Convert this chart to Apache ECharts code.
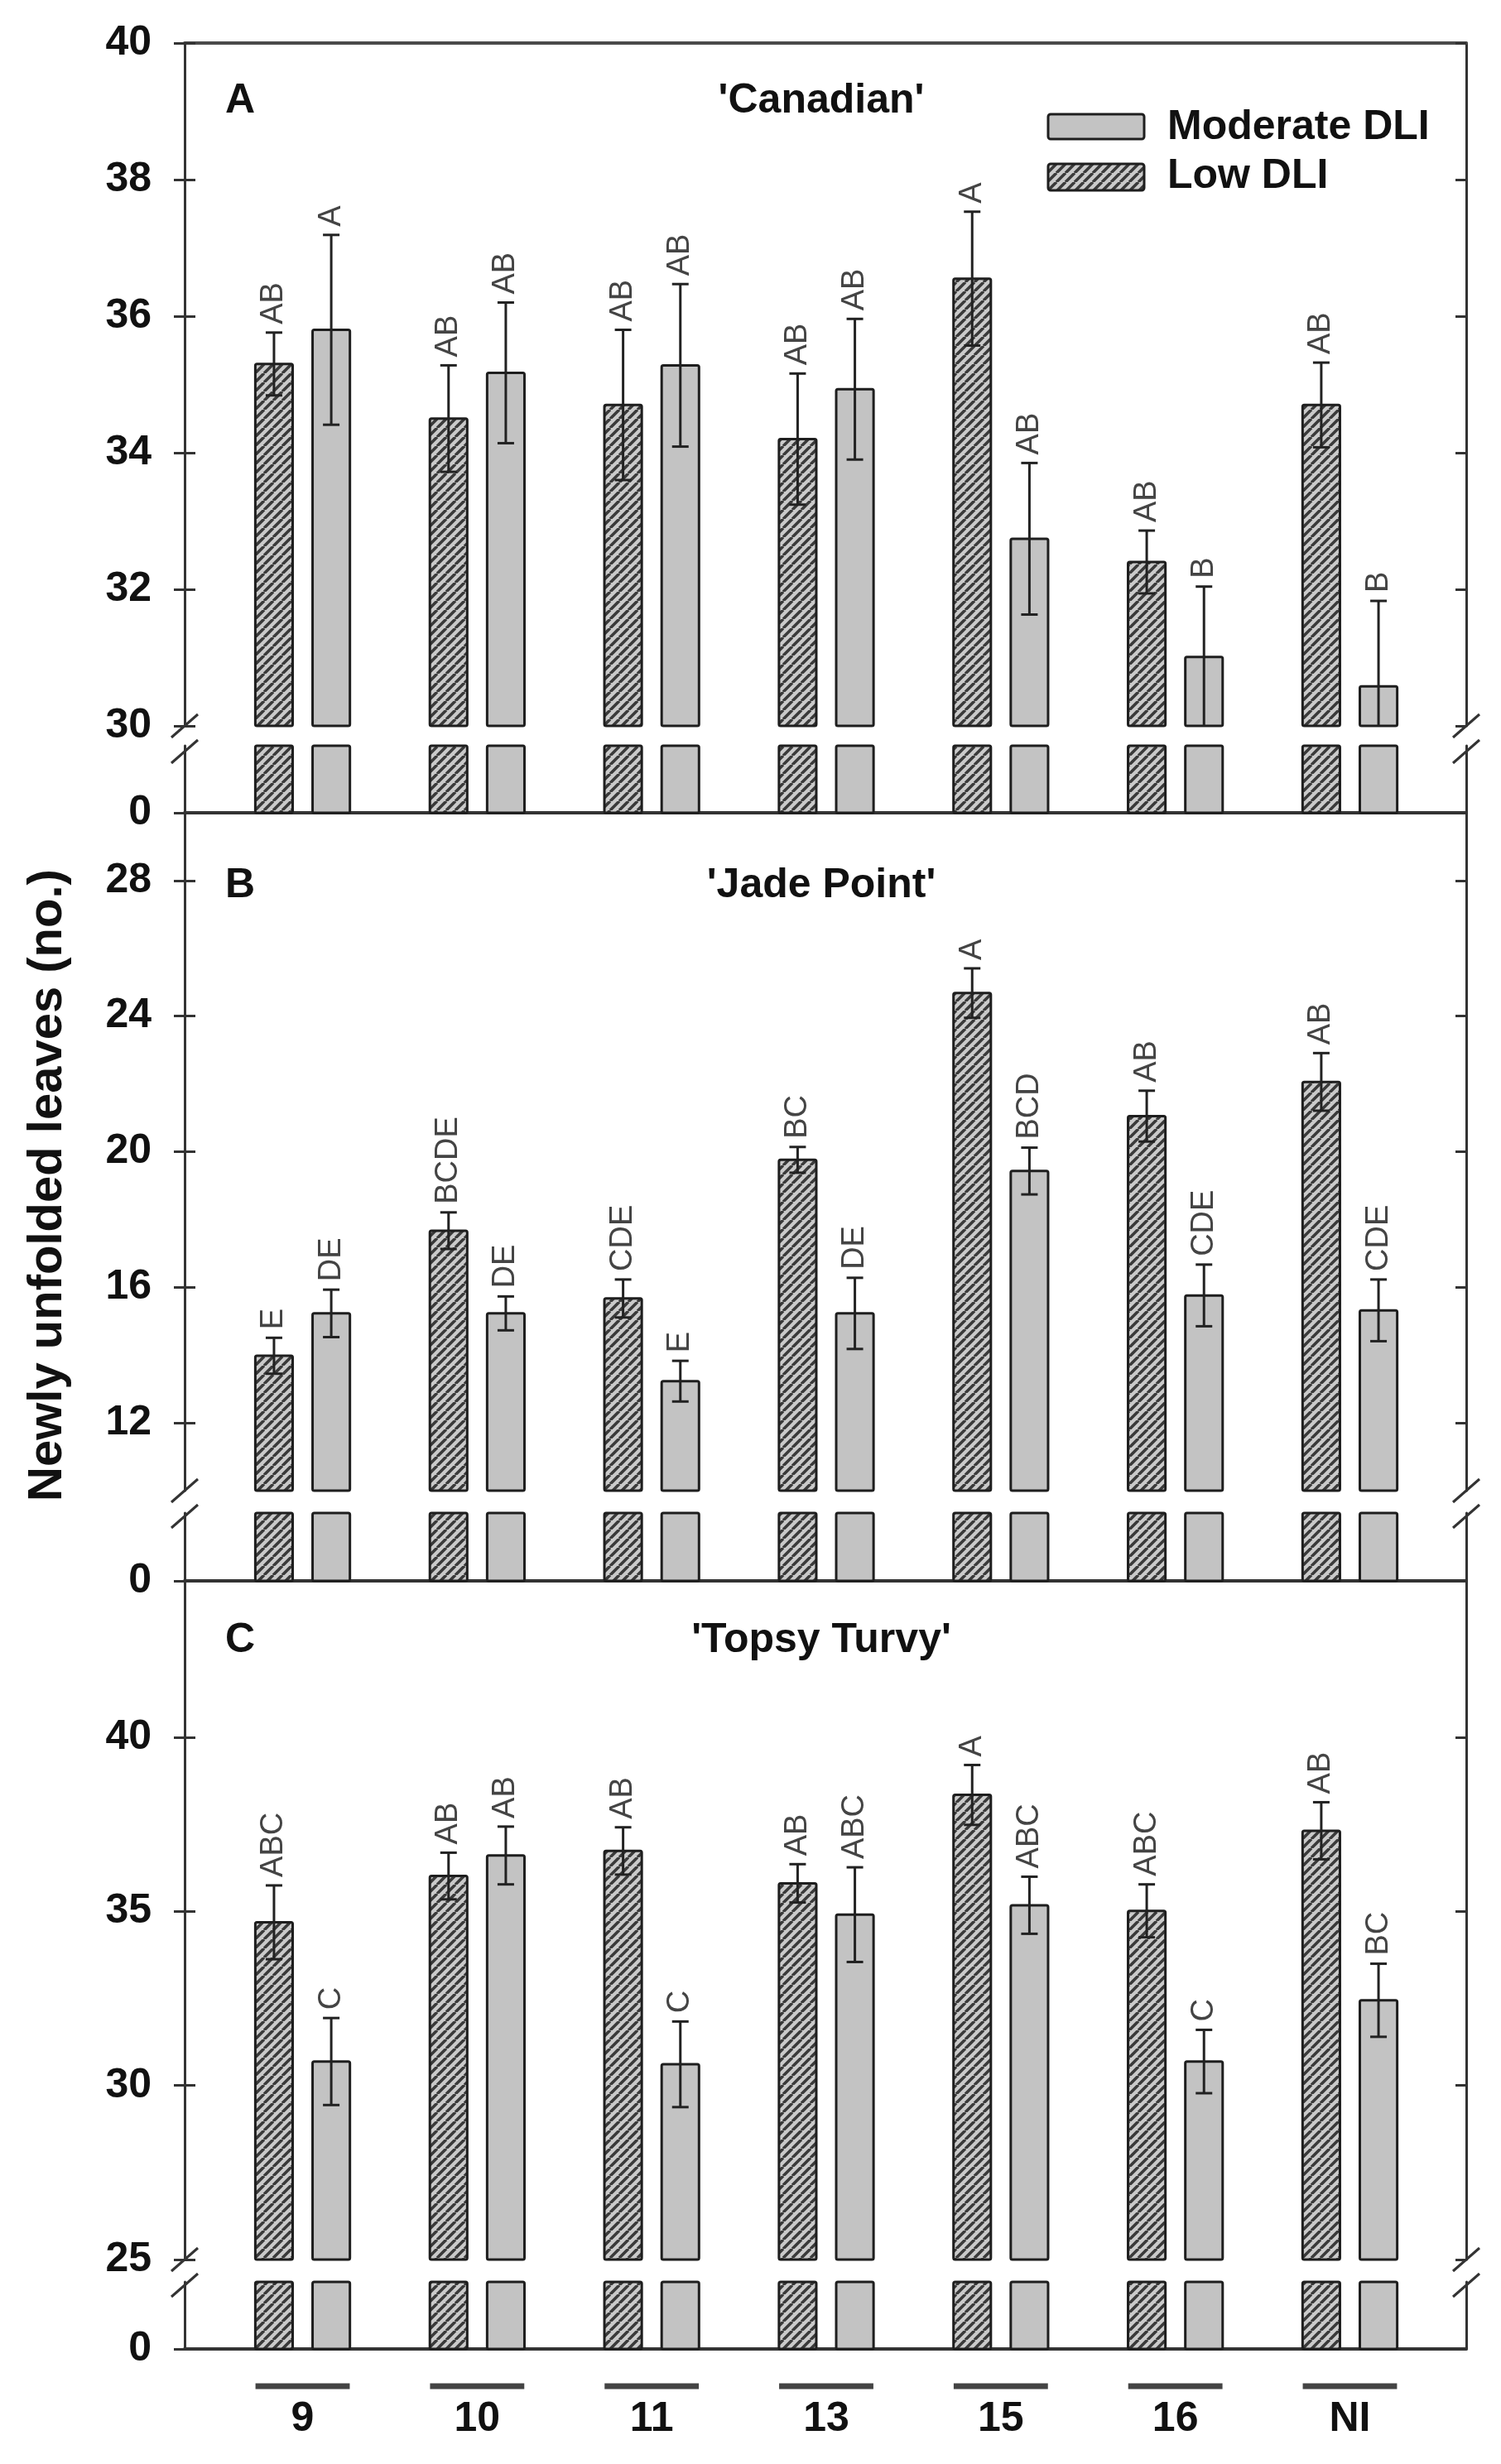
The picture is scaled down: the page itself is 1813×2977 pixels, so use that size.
<!DOCTYPE html>
<html>
<head>
<meta charset="utf-8">
<title>Newly unfolded leaves</title>
<style>
  html, body { margin: 0; padding: 0; background: #fff; }
  #chart { width: 1813px; height: 2977px; }
</style>
</head>
<body>
<div id="chart"></div>
<script src="https://cdn.jsdelivr.net/npm/echarts@6.0.0/dist/echarts.min.js"></script>
<script>
// groups on the x axis
const groups = ['9', '10', '11', '13', '15', '16', 'NI'];

// 'Canadian'
const canLow = [35.3, 34.5, 34.7, 34.2, 36.55, 32.4, 34.7];
const canLowErr = [0.46, 0.78, 1.1, 0.96, 0.98, 0.46, 0.62];
const canLowSig = ['AB', 'AB', 'AB', 'AB', 'A', 'AB', 'AB'];
const canMod = [35.8, 35.17, 35.28, 34.93, 32.74, 31.01, 30.58];
const canModErr = [1.39, 1.03, 1.19, 1.03, 1.11, 1.03, 1.25];
const canModSig = ['A', 'AB', 'AB', 'AB', 'AB', 'B', 'B'];
const canTicks = [30, 32, 34, 36, 38, 40];

// 'Jade Point'
const jadeLow = [13.98, 17.67, 15.67, 19.76, 24.68, 21.05, 22.06];
const jadeLowErr = [0.53, 0.54, 0.56, 0.38, 0.73, 0.75, 0.85];
const jadeLowSig = ['E', 'BCDE', 'CDE', 'BC', 'A', 'AB', 'AB'];
const jadeMod = [15.23, 15.23, 13.23, 15.23, 19.43, 15.76, 15.32];
const jadeModErr = [0.7, 0.5, 0.6, 1.05, 0.69, 0.91, 0.91];
const jadeModSig = ['DE', 'DE', 'E', 'DE', 'BCD', 'CDE', 'CDE'];
const jadeTicks = [12, 16, 20, 24, 28];

// 'Topsy Turvy'
const topLow = [34.69, 36.02, 36.74, 35.81, 38.35, 35.02, 37.32];
const topLowErr = [1.06, 0.67, 0.68, 0.55, 0.86, 0.76, 0.82];
const topLowSig = ['ABC', 'AB', 'AB', 'AB', 'A', 'ABC', 'AB'];
const topMod = [30.69, 36.61, 30.61, 34.91, 35.18, 30.69, 32.45];
const topModErr = [1.25, 0.83, 1.23, 1.36, 0.82, 0.91, 1.05];
const topModSig = ['C', 'AB', 'C', 'ABC', 'ABC', 'C', 'BC'];
const topTicks = [25, 30, 35, 40];

// layout (px)
const L = 223, W = 1548;
const X_MIN = -0.676, X_MAX = 6.6665;
const BAR_OFF = 0.164, BAR_HALF = 0.107;
const FONT = '"Liberation Sans", Arial, Helvetica, sans-serif';
const AX = { color: '#333', width: 3 };
const MOD_FILL = '#c3c3c3';

const panels = [
  { tag: 'A', name: "'Canadian'", top: 52, mainBottom: 877, stubTop: 901, zero: 982, min: 30, max: 40, stubMax: 1,
    low: canLow, lowErr: canLowErr, lowSig: canLowSig, mod: canMod, modErr: canModErr, modSig: canModSig, ticks: canTicks },
  { tag: 'B', name: "'Jade Point'", top: 982, mainBottom: 1801, stubTop: 1828, zero: 1910, min: 10, max: 30, stubMax: 2,
    low: jadeLow, lowErr: jadeLowErr, lowSig: jadeLowSig, mod: jadeMod, modErr: jadeModErr, modSig: jadeModSig, ticks: jadeTicks },
  { tag: 'C', name: "'Topsy Turvy'", top: 1910, mainBottom: 2730, stubTop: 2757, zero: 2838, min: 25, max: 44.5, stubMax: 2,
    low: topLow, lowErr: topLowErr, lowSig: topLowSig, mod: topMod, modErr: topModErr, modSig: topModSig, ticks: topTicks }
];

// diagonal hatch for Low DLI
function makeHatch() {
  const s = 11;
  const c = document.createElement('canvas');
  c.width = s; c.height = s;
  const ctx = c.getContext('2d');
  ctx.fillStyle = '#cacaca';
  ctx.fillRect(0, 0, s, s);
  ctx.strokeStyle = '#3a3a3a';
  ctx.lineWidth = 3.6;
  ctx.beginPath();
  for (let k = -1; k <= 1; k++) {
    ctx.moveTo(k * s, s);
    ctx.lineTo(k * s + s, 0);
  }
  ctx.stroke();
  return { image: c, repeat: 'repeat' };
}
const hatch = makeHatch();

function barRenderer(side, base, cap, errs, sigs) {
  return function (params, api) {
    const i = params.dataIndex;
    const val = api.value(1);
    const v = cap == null ? val : Math.min(val, cap);
    const xc = api.value(0) + side * BAR_OFF;
    const p0 = api.coord([xc - BAR_HALF, base]);
    const p1 = api.coord([xc + BAR_HALF, v]);
    const children = [{
      type: 'rect',
      shape: { x: p0[0], y: p1[1], width: p1[0] - p0[0], height: p0[1] - p1[1], r: 2 },
      style: { fill: side < 0 ? hatch : MOD_FILL, stroke: '#1e1e1e', lineWidth: 3 }
    }];
    if (errs) {
      const e = errs[i];
      const lowEnd = val - e;
      const t = api.coord([xc, val + e]);
      const b = api.coord([xc, Math.max(lowEnd, base)]);
      const ls = { stroke: '#222', lineWidth: 3 };
      children.push(
        { type: 'line', shape: { x1: t[0], y1: t[1], x2: b[0], y2: b[1] }, style: ls },
        { type: 'line', shape: { x1: t[0] - 10, y1: t[1], x2: t[0] + 10, y2: t[1] }, style: ls },
        {
          type: 'text', x: t[0], y: t[1] - 10, rotation: Math.PI / 2,
          style: {
            text: sigs[i], x: 0, y: 0, fill: '#444', font: '38px ' + FONT,
            align: 'left', verticalAlign: 'middle', textAlign: 'left', textVerticalAlign: 'middle'
          }
        }
      );
      if (lowEnd > base) {
        children.push({ type: 'line', shape: { x1: b[0] - 10, y1: b[1], x2: b[0] + 10, y2: b[1] }, style: ls });
      }
    }
    return { type: 'group', children: children };
  };
}

function yAxes(gridIndex, min, max, ticks, rightTicks) {
  const tickStyle = { color: '#333', width: 3 };
  return [
    {
      gridIndex: gridIndex, type: 'value', min: min, max: max, position: 'left',
      axisLine: { show: true, onZero: false, lineStyle: AX },
      axisTick: { show: true, inside: false, length: 13, customValues: ticks, lineStyle: tickStyle },
      axisLabel: { show: true, customValues: ticks, margin: 40, color: '#111', fontSize: 50, fontWeight: 'bold', fontFamily: FONT },
      splitLine: { show: false }
    },
    {
      gridIndex: gridIndex, type: 'value', min: min, max: max, position: 'left',
      axisLine: { show: false, onZero: false },
      axisTick: { show: true, inside: true, length: 13, customValues: ticks, lineStyle: tickStyle },
      axisLabel: { show: false },
      splitLine: { show: false }
    },
    {
      gridIndex: gridIndex, type: 'value', min: min, max: max, position: 'right',
      axisLine: { show: true, onZero: false, lineStyle: AX },
      axisTick: { show: rightTicks, inside: true, length: 13, customValues: ticks, lineStyle: tickStyle },
      axisLabel: { show: false },
      splitLine: { show: false }
    }
  ];
}

const option = {
  animation: false,
  backgroundColor: '#fff',
  grid: [], xAxis: [], yAxis: [], series: [], graphic: []
};

panels.forEach(function (p, pi) {
  const mg = 2 * pi, sg = 2 * pi + 1;
  option.grid.push(
    { left: L, width: W, top: p.top, height: p.mainBottom - p.top, containLabel: false, outerBoundsMode: 'none' },
    { left: L, width: W, top: p.stubTop, height: p.zero - p.stubTop, containLabel: false, outerBoundsMode: 'none' }
  );
  option.xAxis.push(
    {
      gridIndex: mg, type: 'value', min: X_MIN, max: X_MAX, position: 'top',
      axisLine: { show: pi === 0, onZero: false, lineStyle: { color: '#4a4a4a', width: 4 } },
      axisTick: { show: false }, axisLabel: { show: false }, splitLine: { show: false }
    },
    {
      gridIndex: sg, type: 'value', min: X_MIN, max: X_MAX, position: 'bottom',
      axisLine: { show: true, onZero: false, lineStyle: { color: '#333', width: 4 } },
      axisTick: { show: false }, splitLine: { show: false },
      axisLabel: pi === 2 ? {
        show: true, customValues: groups.map(function (g, i) { return i; }),
        formatter: function (v) { return groups[Math.round(v)]; },
        margin: 60, color: '#111', fontSize: 50, fontWeight: 'bold', fontFamily: FONT
      } : { show: false }
    }
  );
  option.yAxis.push.apply(option.yAxis, yAxes(mg, p.min, p.max, p.ticks, true));
  option.yAxis.push.apply(option.yAxis, yAxes(sg, 0, p.stubMax, [0], false));

  const lowData = p.low.map(function (v, i) { return [i, v]; });
  const modData = p.mod.map(function (v, i) { return [i, v]; });
  option.series.push(
    { type: 'custom', name: 'Low DLI', silent: true, xAxisIndex: mg, yAxisIndex: mg * 3, data: lowData,
      renderItem: barRenderer(-1, p.min, null, p.lowErr, p.lowSig) },
    { type: 'custom', name: 'Moderate DLI', silent: true, xAxisIndex: mg, yAxisIndex: mg * 3, data: modData,
      renderItem: barRenderer(1, p.min, null, p.modErr, p.modSig) },
    { type: 'custom', name: 'Low DLI', silent: true, xAxisIndex: sg, yAxisIndex: sg * 3, data: lowData,
      renderItem: barRenderer(-1, 0, p.stubMax, null, null) },
    { type: 'custom', name: 'Moderate DLI', silent: true, xAxisIndex: sg, yAxisIndex: sg * 3, data: modData,
      renderItem: barRenderer(1, 0, p.stubMax, null, null) }
  );

  // break marks on both axes
  [L, L + W].forEach(function (ax) {
    [p.mainBottom, p.mainBottom + 31].forEach(function (cy) {
      option.graphic.push({
        type: 'line', silent: true,
        shape: { x1: ax - 16, y1: cy + 14, x2: ax + 16, y2: cy - 14 },
        style: { stroke: '#333', lineWidth: 3 }
      });
    });
  });

  // panel tag and cultivar name
  const ty = [122, 1070, 1982][pi];
  option.graphic.push(
    { type: 'text', silent: true, x: 272, y: ty,
      style: { text: p.tag, font: 'bold 50px ' + FONT, fill: '#111', align: 'left', verticalAlign: 'middle', textAlign: 'left', textVerticalAlign: 'middle' } },
    { type: 'text', silent: true, x: 992, y: ty,
      style: { text: p.name, font: 'bold 50px ' + FONT, fill: '#111', align: 'center', verticalAlign: 'middle', textAlign: 'center', textVerticalAlign: 'middle' } }
  );
});

// underline bars above the group labels
option.series.push({
  type: 'custom', silent: true, xAxisIndex: 5, yAxisIndex: 15, clip: false,
  data: groups.map(function (g, i) { return [i, 0]; }),
  renderItem: function (params, api) {
    const a = api.coord([api.value(0) - 0.27, 0]);
    const b = api.coord([api.value(0) + 0.27, 0]);
    return { type: 'line', shape: { x1: a[0], y1: a[1] + 45, x2: b[0], y2: b[1] + 45 },
      style: { stroke: '#444', lineWidth: 7 } };
  }
});

// legend
option.graphic.push(
  { type: 'rect', silent: true, shape: { x: 1266, y: 138, width: 116, height: 30, r: 3 },
    style: { fill: MOD_FILL, stroke: '#1e1e1e', lineWidth: 3 } },
  { type: 'rect', silent: true, shape: { x: 1266, y: 198, width: 116, height: 32, r: 3 },
    style: { fill: hatch, stroke: '#1e1e1e', lineWidth: 3 } },
  { type: 'text', silent: true, x: 1410, y: 154,
    style: { text: 'Moderate DLI', font: 'bold 50px ' + FONT, fill: '#111', align: 'left', verticalAlign: 'middle', textAlign: 'left', textVerticalAlign: 'middle' } },
  { type: 'text', silent: true, x: 1410, y: 213,
    style: { text: 'Low DLI', font: 'bold 50px ' + FONT, fill: '#111', align: 'left', verticalAlign: 'middle', textAlign: 'left', textVerticalAlign: 'middle' } },
  { type: 'text', silent: true, x: 58, y: 1432, rotation: Math.PI / 2,
    style: { text: 'Newly unfolded leaves (no.)', font: 'bold 58px ' + FONT, fill: '#111', align: 'center', verticalAlign: 'middle', textAlign: 'center', textVerticalAlign: 'middle' } }
);

const chart = echarts.init(document.getElementById('chart'), null, { renderer: 'canvas' });
chart.setOption(option);
window.addEventListener('resize', chart.resize);
</script>
</body>
</html>
